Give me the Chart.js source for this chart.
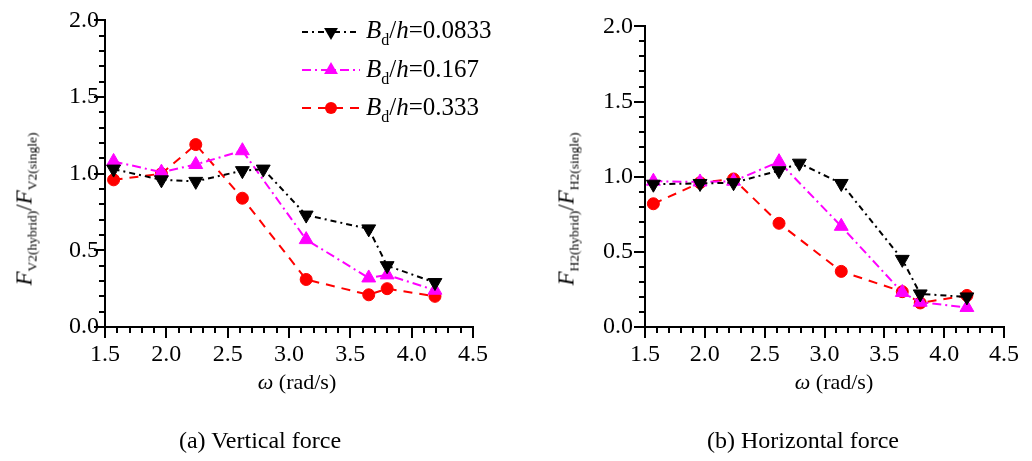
<!DOCTYPE html>
<html>
<head>
<meta charset="utf-8">
<script src="https://cdn.jsdelivr.net/npm/chart.js@4.4.1/dist/chart.umd.min.js"></script>
<style>
  html,body{margin:0;padding:0;background:#fff;}
  body{width:1032px;height:461px;position:relative;overflow:hidden;font-family:"Liberation Serif","Times New Roman",serif;color:#000;}
  .chart{position:absolute;top:0;width:516px;height:400px;}
  .txt{position:absolute;white-space:nowrap;font-size:22px;line-height:22px;}
  .ytitle{transform:translate(-50%,-50%) rotate(-90deg);font-size:23px;}
  .ctr{transform:translate(-50%,-50%);}
  .cap{font-size:24px;line-height:24px;}
  .leg{font-size:25px;line-height:25px;}
  .sub{font-size:13.5px;position:relative;top:0.4em;}
  .legsub{font-size:16px;position:relative;top:0.45em;}
  svg{position:absolute;overflow:visible;}
</style>
</head>
<body>
<div class="chart" style="left:0"><canvas id="c1" width="516" height="400"></canvas></div>
<div class="chart" style="left:516px"><canvas id="c2" width="516" height="400"></canvas></div>

<div class="txt ytitle" style="left:26px;top:209px"><i>F</i><span class="sub">V2(hybrid)</span>/<i>F</i><span class="sub">V2(single)</span></div>
<div class="txt ytitle" style="left:568px;top:209px"><i>F</i><span class="sub">H2(hybrid)</span>/<i>F</i><span class="sub">H2(single)</span></div>

<div class="txt ctr" style="left:297px;top:382px"><i>ω</i> (rad/s)</div>
<div class="txt ctr" style="left:834px;top:382px"><i>ω</i> (rad/s)</div>

<div class="txt ctr cap" style="left:260px;top:440px">(a) Vertical force</div>
<div class="txt ctr cap" style="left:803px;top:440px">(b) Horizontal force</div>

<div id="legend"></div>

<script>
// ---------- data ----------
const omegaA = [1.57, 1.96, 2.24, 2.62, 2.79, 3.14, 3.65, 3.80, 4.19];
const omegaB = [1.57, 1.96, 2.24, 2.62, 3.14, 3.65, 3.80, 4.19];

const vert0833 = [1.03, 0.96, 0.95, 1.02, 1.03, 0.73, 0.64, 0.40, 0.29];
const vert167  = [1.08, 1.01, 1.06, 1.15, 0.57, 0.32, 0.34, 0.24];
const vert333  = [0.96, 1.00, 1.19, 0.84, 0.31, 0.21, 0.25, 0.20];

const hor0833 = [0.95, 0.955, 0.96, 1.04, 1.09, 0.955, 0.45, 0.22, 0.20];
const hor167  = [0.97, 0.965, 0.97, 1.10, 0.67, 0.23, 0.165, 0.13];
const hor333  = [0.82, 0.96, 0.985, 0.69, 0.37, 0.235, 0.16, 0.21];

const seriesLabels = ['0.0833', '0.167', '0.333'];
const xTickLabels = ['1.5', '2.0', '2.5', '3.0', '3.5', '4.0', '4.5'];
const yTickLabels = ['0.0', '0.5', '1.0', '1.5', '2.0'];

// ---------- styles ----------
const styles = [
  {color:'#000000', dash:[6,4,2,4], pointStyle:'triangle', rotation:180, radius:8},
  {color:'#ff00ff', dash:[9,4,2,4], pointStyle:'triangle', rotation:0, radius:8},
  {color:'#ff0000', dash:[9,7], pointStyle:'circle', rotation:0, radius:6}
];

function pts(xs, ys){ return xs.map((x,i)=>({x:x, y:ys[i]})); }

const tickPlugin = {
  id:'minorTicks',
  afterDraw(chart){
    const ctx = chart.ctx, xs = chart.scales.x, ys = chart.scales.y;
    const ca = chart.chartArea;
    ctx.save();
    ctx.strokeStyle = '#000';
    ctx.lineWidth = 2;
    ctx.beginPath();
    for(let i=0;i<=30;i++){
      const px = Math.round(xs.getPixelForValue(1.5 + i*0.1));
      const len = (i%5===0) ? 11 : 6;
      ctx.moveTo(px, ca.bottom); ctx.lineTo(px, ca.bottom + len);
    }
    for(let i=0;i<=20;i++){
      const py = Math.round(ys.getPixelForValue(i*0.1));
      const len = (i%5===0) ? 11 : 6;
      ctx.moveTo(ca.left, py); ctx.lineTo(ca.left - len, py);
    }
    ctx.stroke();
    ctx.restore();
  }
};

function makeChart(id, sets, leftW, rightPad, yPad){
  const datasets = sets.map((s,k)=>({
    label: seriesLabels[k],
    data: pts(s.x, s.y),
    borderColor: styles[k].color,
    backgroundColor: styles[k].color,
    borderWidth: 2,
    borderDash: styles[k].dash,
    pointStyle: styles[k].pointStyle,
    pointRotation: styles[k].rotation,
    pointRadius: styles[k].radius,
    pointBorderWidth: 1,
    pointBorderColor: styles[k].color,
    pointBackgroundColor: styles[k].color,
    tension: 0,
    fill: false,
    clip: false
  }));
  const font = {family:'"Liberation Serif", "Times New Roman", serif', size:24};
  return new Chart(document.getElementById(id), {
    type:'line',
    data:{datasets},
    options:{
      responsive:false, animation:false, devicePixelRatio:1,
      layout:{padding:{left:0, right:rightPad, top:18, bottom:0}},
      plugins:{legend:{display:false}, tooltip:{enabled:false}},
      scales:{
        x:{type:'linear', min:1.5, max:4.5,
           ticks:{stepSize:0.5, color:'#000', font, padding:13, maxRotation:0,
                  callback:(v,i)=>xTickLabels[i]},
           grid:{display:true, drawOnChartArea:false, drawTicks:false},
           border:{display:true, color:'#000', width:2},
           afterFit:(s)=>{ s.height = 73; }},
        y:{min:0, max:2,
           ticks:{stepSize:0.5, color:'#000', font, padding:yPad,
                  callback:(v,i)=>yTickLabels[i]},
           grid:{display:true, drawOnChartArea:false, drawTicks:false},
           border:{display:true, color:'#000', width:2},
           afterFit:(s)=>{ s.width = leftW; }}
      }
    },
    plugins:[tickPlugin]
  });
}

makeChart('c1', [
  {x:omegaA, y:vert0833},
  {x:omegaB, y:vert167},
  {x:omegaB, y:vert333}
], 105, 516-473, 6);

makeChart('c2', [
  {x:omegaA, y:hor0833},
  {x:omegaB, y:hor167},
  {x:omegaB, y:hor333}
], 129, 516-497, 12);

// ---------- legend ----------
const legend = document.getElementById('legend');
const rowCenters = [32, 70, 108];
const rowTops = [17, 55.5, 94];
const NS = 'http://www.w3.org/2000/svg';
styles.forEach((st,k)=>{
  const svg = document.createElementNS(NS,'svg');
  svg.setAttribute('width','64'); svg.setAttribute('height','20');
  svg.style.left = '300px'; svg.style.top = (rowCenters[k]-10)+'px';
  const ln = document.createElementNS(NS,'line');
  ln.setAttribute('x1','2'); ln.setAttribute('x2','60');
  ln.setAttribute('y1','10'); ln.setAttribute('y2','10');
  ln.setAttribute('stroke', st.color); ln.setAttribute('stroke-width','2');
  ln.setAttribute('stroke-dasharray', st.dash.join(','));
  svg.appendChild(ln);
  let m;
  if(st.pointStyle==='circle'){
    m = document.createElementNS(NS,'circle');
    m.setAttribute('cx','31'); m.setAttribute('cy','10'); m.setAttribute('r', String(st.radius));
  } else {
    const r = st.radius, cx = 31, cy = 10;
    const pts = [];
    for(let j=0;j<3;j++){
      const a = (st.rotation*Math.PI/180) - Math.PI/2 + j*2*Math.PI/3;
      pts.push((cx + r*Math.cos(a)).toFixed(2)+','+(cy + r*Math.sin(a)).toFixed(2));
    }
    m = document.createElementNS(NS,'polygon');
    m.setAttribute('points', pts.join(' '));
  }
  m.setAttribute('fill', st.color);
  svg.appendChild(m);
  legend.appendChild(svg);

  const t = document.createElement('div');
  t.className = 'txt leg';
  t.style.left = '366px'; t.style.top = rowTops[k]+'px';
  t.innerHTML = '<i>B</i><span class="legsub">d</span>/<i>h</i>=' + seriesLabels[k];
  legend.appendChild(t);
});
</script>
</body>
</html>
